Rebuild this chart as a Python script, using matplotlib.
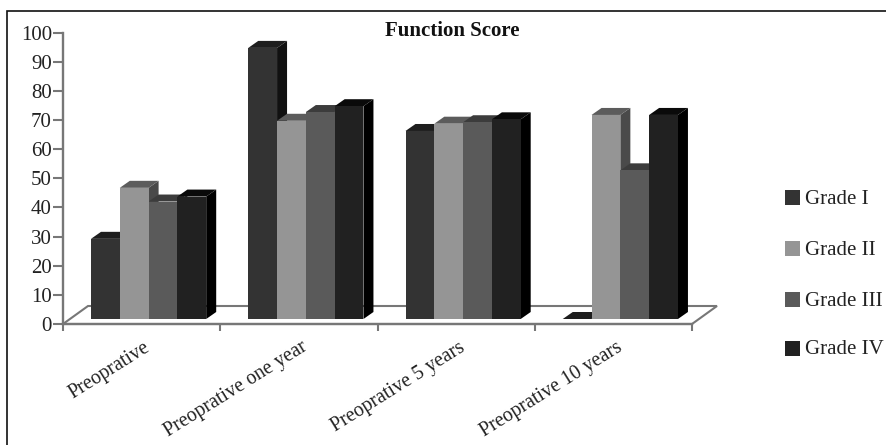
#!/usr/bin/env python3
"""Function score by grade, drawn as a faux-3D grouped bar chart."""

import matplotlib
matplotlib.use("Agg")
import matplotlib.pyplot as plt
from matplotlib.patches import Polygon, Rectangle

plt.rcParams["font.family"] = ["Liberation Serif", "DejaVu Serif"]

CATEGORIES = ["Preoprative", "Preoprative one year", "Preoprative 5 years", "Preoprative 10 years"]
GRADES = ["Grade I", "Grade II", "Grade III", "Grade IV"]
GRADE_1 = [27.5, 93, 64.5, 0]
GRADE_2 = [45, 68, 67, 70]
GRADE_3 = [40.3, 71, 67.5, 51]
GRADE_4 = [42, 73, 68.5, 70]
Y_TICKS = list(range(0, 101, 10))

FRONT = ["#333333", "#959595", "#5a5a5a", "#212121"]
TOP = ["#1e1e1e", "#5c5c5c", "#3c3c3c", "#0a0a0a"]
SIDE = ["#111111", "#4a4a4a", "#404040", "#000000"]
AXIS_GREY = "#777777"

W, H = 887, 445
# axes box in pixels: y=0 at 324, y=100 at 32.5, x from 63 to 692
LEFT, RIGHT, Y0, Y100 = 63, 692, 324, 32.5
PX_X = (RIGHT - LEFT) / 4
PX_Y = (Y0 - Y100) / 100

# 3D offsets, in data units
FLOOR_DX, FLOOR_DY = 25 / PX_X, 18 / PX_Y
BAR_DX, BAR_DY = 10 / PX_X, 7 / PX_Y
BAR_W = 28.8 / PX_X
BASE = 5 / PX_Y
GROUP_START = 28 / PX_X


def draw_bar(ax, x, value, idx):
    top = BASE + value
    ax.add_patch(Polygon([(x + BAR_W, BASE), (x + BAR_W + BAR_DX, BASE + BAR_DY),
                          (x + BAR_W + BAR_DX, top + BAR_DY), (x + BAR_W, top)],
                         fc=SIDE[idx], ec="none", clip_on=False, zorder=3))
    ax.add_patch(Polygon([(x, top), (x + BAR_DX, top + BAR_DY),
                          (x + BAR_W + BAR_DX, top + BAR_DY), (x + BAR_W, top)],
                         fc=TOP[idx], ec="none", clip_on=False, zorder=3))
    ax.bar(x, value, BAR_W, bottom=BASE, align="edge", color=FRONT[idx], zorder=4, clip_on=False)


fig = plt.figure(figsize=(W / 100, H / 100), dpi=100)
fig.add_artist(Rectangle((7 / W, -0.01), (W + 5) / W, 1 - 11 / H + 0.01, zorder=-1,
                         transform=fig.transFigure, fc="white", ec="#111111", lw=1.2))

ax = fig.add_axes([LEFT / W, 1 - Y0 / H, (RIGHT - LEFT) / W, (Y0 - Y100) / H])
ax.set_xlim(0, 4)
ax.set_ylim(0, 100)
ax.patch.set_alpha(0)
for name in ("top", "right"):
    ax.spines[name].set_visible(False)
for name in ("left", "bottom"):
    ax.spines[name].set_color(AXIS_GREY)
    ax.spines[name].set_linewidth(1.7)

ax.add_patch(Polygon([(0, 0), (FLOOR_DX, FLOOR_DY), (4 + FLOOR_DX, FLOOR_DY), (4, 0)],
                     fc="white", ec=AXIS_GREY, lw=1.5, clip_on=False, zorder=1))

series = [GRADE_1, GRADE_2, GRADE_3, GRADE_4]
for g in range(len(CATEGORIES)):
    for i, vals in enumerate(series):
        x = g + GROUP_START + i * BAR_W
        draw_bar(ax, x, vals[g], i)

ax.set_yticks(Y_TICKS)
ax.tick_params(axis="y", length=7, width=1.5, color=AXIS_GREY, labelsize=15, pad=1, labelcolor="#222222")
ax.set_xticks(range(5))
ax.set_xticklabels([])
ax.tick_params(axis="x", length=5, width=1.5, color=AXIS_GREY)

for g, label in enumerate(CATEGORIES):
    ax.annotate(label, (g + 0.5, 0), xytext=(1.5, -10), textcoords="offset points",
                rotation=32, rotation_mode="anchor", ha="right", va="top",
                fontsize=14.3, color="#222222", annotation_clip=False)

fig.text(452 / W, 1 - 31 / H, "Function Score", ha="center", va="center",
         fontsize=15, fontweight="bold", color="#111111")

# legend drawn by hand to keep the wide spacing of the original
for i, (name, ypx) in enumerate(zip(GRADES, [198, 248, 299, 348])):
    fig.add_artist(Rectangle((785 / W, 1 - (ypx + 7.5) / H), 15 / W, 15 / H,
                             transform=fig.transFigure, fc=FRONT[i], ec="none"))
    fig.text(805 / W, 1 - (ypx + 2) / H, name, ha="left", va="center", fontsize=15, color="#222222")

fig.savefig("out.png", dpi=100)
